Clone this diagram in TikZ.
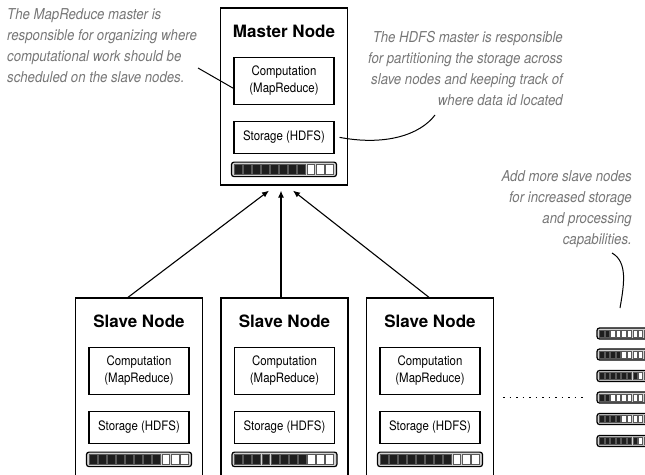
\documentclass[tikz,border=0pt]{standalone}
\usepackage{fontspec}
\setmainfont{TeX Gyre Heros}
\newfontfamily\narrowfont[FakeStretch=0.88]{TeX Gyre Heros}
\usetikzlibrary{arrows.meta}
\usetikzlibrary{positioning}
\definecolor{NoteGray}{HTML}{777777}
\definecolor{CellBlack}{HTML}{1E1E1E}

\tikzset{
  hnode/.style={draw, line width=1.3pt, minimum width=127pt, inner sep=0pt},
  htitle/.style={font=\fontsize{17}{20}\selectfont\bfseries, anchor=base, inner sep=0pt},
  inbox/.style={draw, line width=1.1pt, minimum width=100pt, inner sep=0pt, align=center,
    font=\narrowfont\fontsize{13}{17}\selectfont},
  note/.style={font=\narrowfont\itshape\fontsize{15}{20.8}\selectfont, text=NoteGray, inner sep=0pt},
  barframe/.style={draw, line width=1.2pt, rounded corners=2.5pt, fill=gray!35, inner sep=0pt},
  uparrow/.style={-{Latex[length=7pt,width=6pt]}, line width=1.1pt},
  dotline/.style={line width=1.6pt, dash pattern=on 1.6pt off 4.9pt},
}

% capacity bar: name, centre, width, height, cells, filled cells
\newcommand\capbar[6]{%
  \node[barframe, minimum width=#3pt, minimum height=#4pt] (#1) at (#2) {};
  \foreach \i in {1,...,#5} {
    \pgfmathsetmacro\cpitch{(#3-5)/#5}
    \pgfmathsetmacro\cinset{0.17*#4}
    \ifnum\i>#6 \def\cellcol{white}\else\def\cellcol{CellBlack}\fi
    \filldraw[draw=gray!70!black, line width=0.4pt, fill=\cellcol]
      ([xshift={3.1pt+(\i-1)*\cpitch*1pt}, yshift={(#4/2-\cinset)*1pt}]#1.west)
      rectangle ++(\cpitch-1.2, #4-2*\cinset);
  }
}

% hadoop node: name, centre, height, title
\newcommand\hadoopbox[4]{%
  \node[hnode, minimum height=#3pt] (#1) at (#2) {};
  \node[htitle] (#1-title) at ([yshift=-30pt]#1.north) {#4};
  \node[inbox, minimum height=47pt] (#1-comp) at ([yshift=-73.5pt]#1.north) {Computation\\(MapReduce)};
  \node[inbox, minimum height=32pt] (#1-store) at ([yshift=-130pt]#1.north) {Storage (HDFS)};
  \capbar{#1-bar}{[yshift=-162pt]#1.north}{105}{14.5}{11}{8}
}

\begin{document}
\begin{tikzpicture}[x=1pt, y=-1pt]
    \clip (0,0) rectangle (645,474);

    % master and slaves
    \hadoopbox{master}{284,96.5}{177}{Master Node}
    \hadoopbox{slave1}{139,390}{184}{Slave Node}
    \hadoopbox{slave2}{284.5,390}{184}{Slave Node}
    \hadoopbox{slave3}{430,390}{184}{Slave Node}

    \draw[uparrow] ([xshift=-11pt]slave1.north) -- ([shift={(-15pt,-5pt)}]master.south);
    \draw[uparrow] ([xshift=-3.5pt]slave2.north) -- ([shift={(-3pt,-5pt)}]master.south);
    \draw[uparrow] ([xshift=-1pt]slave3.north) -- ([shift={(9pt,-5pt)}]master.south);

    % extra slaves
    \foreach \k/\y/\f in {1/333.5/2, 2/354.5/4, 3/376/7, 4/397.5/2, 5/419/4, 6/441/7}
      \capbar{stack\k}{630,\y}{66}{11}{11}{\f};
    \draw[dotline] ([xshift=9pt]slave3.east |- stack4.west) -- ([xshift=-10pt]stack4.west);

    % notes
    \node[note, anchor=north west, align=left] (mrnote) at (7,8.5)
      {The MapReduce master is\\responsible for organizing where\\computational work should be\\scheduled on the slave nodes.};
    \node[note, anchor=north east, align=right] (hdfsnote) at (563,31.5)
      {The HDFS master is responsible\\for  partitioning the storage across\\slave nodes and keeping track of\\where data id located};
    \node[note, anchor=north east, align=right] (addnote) at (632,170.5)
      {Add more slave nodes\\for increased storage\\and processing\\capabilities.};

    \coordinate (mrtail) at (198,68);
    \coordinate (hdfstail) at (435,115);
    \coordinate (addtail) at (612,253);
    \coordinate (addhead) at (620,308);
    \draw[line width=1pt] (mrtail) -- ([yshift=-7.5pt]master-comp.west);
    \draw[line width=1pt] ([xshift=5pt]master-store.east) .. controls (385,146) and (420,135) .. (hdfstail);
    \draw[line width=1pt] (addtail) .. controls (628,262) and (624,285) .. (addhead);
  \end{tikzpicture}
\end{document}
